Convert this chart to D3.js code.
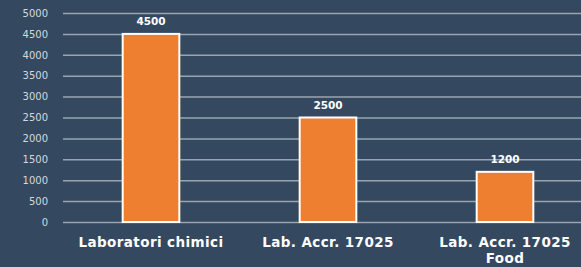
<!DOCTYPE html>
<html><head><meta charset="utf-8">
<script src="https://cdn.jsdelivr.net/npm/d3@7"></script>
<style>
html,body{margin:0;padding:0;background:#34495f;}
svg{display:block;}
</style></head>
<body><svg id="c" width="581" height="267"></svg>
<script>
const categories = [["Laboratori chimici"], ["Lab. Accr. 17025"], ["Lab. Accr. 17025", "Food"]];
const values = [4500, 2500, 1200];
const yTicks = [0, 500, 1000, 1500, 2000, 2500, 3000, 3500, 4000, 4500, 5000];

const svg = d3.select("#c");
const W = 581, H = 267;
const FONT = "DejaVu Sans, Verdana, sans-serif";
svg.append("rect").attr("width", W).attr("height", H).attr("fill", "#34495f");

const x = d3.scaleBand().domain(d3.range(values.length)).range([62.5, 593.5]).paddingInner(0.68).paddingOuter(0.34);
const y = d3.scaleLinear().domain([0, 5000]).range([222, 13]);

const yAxis = d3.axisLeft(y).tickValues(yTicks).tickFormat(d3.format("d")).tickSize(-(W - 63)).tickPadding(15);
const gy = svg.append("g").attr("transform", "translate(63,0)").call(yAxis);
gy.select(".domain").remove();
gy.selectAll(".tick line").attr("stroke", "#9aa4b1").attr("stroke-width", 1.5);
gy.selectAll(".tick text").attr("fill", "#d3d8df").attr("font-family", FONT).attr("font-size", 10);

svg.selectAll("rect.bar").data(values).join("rect").attr("class", "bar")
  .attr("x", (d, i) => x(i)).attr("width", x.bandwidth())
  .attr("y", d => y(d)).attr("height", d => y(0) - y(d))
  .attr("fill", "#ee7f31").attr("stroke", "#ffffff").attr("stroke-width", 2);

svg.selectAll("text.val").data(values).join("text").attr("class", "val")
  .attr("x", (d, i) => x(i) + x.bandwidth() / 2).attr("y", d => y(d) - 9)
  .attr("text-anchor", "middle").attr("fill", "#ffffff")
  .attr("font-family", FONT).attr("font-size", 10.5).attr("font-weight", 700)
  .text(d => d);

const xl = svg.selectAll("text.cat").data(categories).join("text").attr("class", "cat")
  .attr("x", (d, i) => x(i) + x.bandwidth() / 2).attr("y", 247)
  .attr("text-anchor", "middle").attr("fill", "#ffffff")
  .attr("font-family", FONT).attr("font-size", 13.5).attr("font-weight", 700)
  .attr("letter-spacing", 0.4);
xl.selectAll("tspan").data(d => d).join("tspan")
  .attr("x", function() { return this.parentNode.getAttribute("x"); })
  .attr("dy", (d, j) => j === 0 ? 0 : 16).text(d => d);
</script></body></html>
